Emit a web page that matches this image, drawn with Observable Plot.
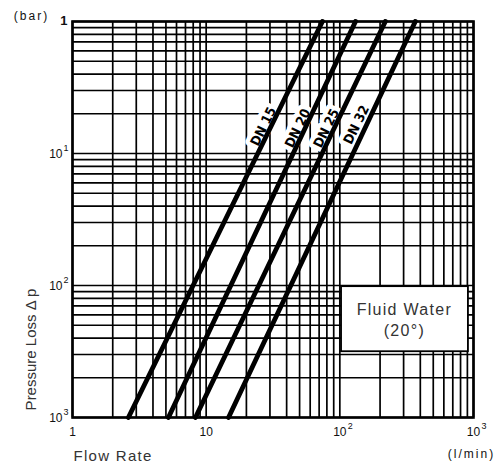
<!DOCTYPE html>
<html><head><meta charset="utf-8">
<script src="https://cdn.jsdelivr.net/npm/d3@7"></script>
<script src="https://cdn.jsdelivr.net/npm/@observablehq/plot@0.6"></script>
<style>
body{margin:0;background:#fff}
#chart svg{display:block}
g[aria-description="tracked"] text{letter-spacing:2px}
g[aria-description="wide"] text{letter-spacing:1.3px}
</style>
</head><body><div id="chart"></div>
<script>
// Curves: flow (l/min) where each curve meets the bottom (0.001 bar) and top (1 bar) of the chart
const series = ["DN 15", "DN 20", "DN 25", "DN 32"];
const flowAtLowPressure = [2.62, 5.22, 8.32, 14.7];
const flowAtHighPressure = [74.1, 131, 219, 367];
const pressureLow = 0.001;
const pressureHigh = 1;
// Curve label anchors
const labelFlow = [26.8, 48.5, 79.4, 133];
const labelPressure = [0.16, 0.155, 0.155, 0.165];

// Grid lines
const xGridValues = [1,2,3,4,5,6,7,8,9,10,20,30,40,50,60,70,80,90,100,200,300,400,500,600,700,800,900,1000];
const yGridValues = [1,0.9,0.8,0.7,0.6,0.5,0.4,0.3,0.2,0.1,0.09,0.08,0.07,0.06,0.05,0.04,0.03,0.02,0.01,0.009,0.008,0.007,0.006,0.005,0.004,0.003,0.002,0.001];

// Tick labels
const xTickValues = [1, 10, 100, 1000];
const xTickBase = ["1", "10", "10", "10"];
const xTickSup = ["", "", "2", "3"];
const yTickValues = [1, 0.1, 0.01, 0.001];
const yTickBase = ["1", "10", "10", "10"];
const yTickSup = ["", "1", "2", "3"];

// Note box
const noteText = "Fluid Water\n(20°)";
const noteFlowRange = [103, 916];
const noteFlowCenter = 304;
const notePressureRange = [0.00315, 0.0098];
const notePressureCenter = 0.00557;

const curveRows = series.flatMap((s, i) => [
  {s, q: flowAtLowPressure[i], p: pressureLow},
  {s, q: flowAtHighPressure[i], p: pressureHigh}
]);
const labelRows = series.map((s, i) => ({s, q: labelFlow[i], p: labelPressure[i]}));
const xTicks = xTickValues.map((v, i) => ({v, b: xTickBase[i], s: xTickSup[i]}));
const yTicks = yTickValues.map((v, i) => ({v, b: yTickBase[i], s: yTickSup[i]}));

const chart = Plot.plot({
  width: 498,
  height: 466,
  marginLeft: 72,
  marginRight: 25,
  marginTop: 21,
  marginBottom: 49,
  style: {fontFamily: "'Liberation Sans', Arial, sans-serif", background: "white", color: "#111"},
  x: {type: "log", domain: [1, 1000], axis: null},
  y: {type: "log", domain: [0.001, 1], axis: null},
  marks: [
    Plot.ruleX(xGridValues, {x: d => d, stroke: "#000", strokeWidth: 1.7}),
    Plot.ruleY(yGridValues, {y: d => d, stroke: "#000", strokeWidth: 1.7}),
    Plot.frame({stroke: "#000", strokeWidth: 2.6}),
    Plot.text(labelRows, {x: "q", y: "p", text: "s", rotate: -64, fontSize: 13.5, fontWeight: "bold",
      fontFamily: "'DejaVu Sans Condensed', 'Liberation Sans Narrow', sans-serif",
      fill: "#000", stroke: "white", strokeWidth: 9}),
    Plot.line(curveRows, {x: "q", y: "p", z: "s", stroke: "#000", strokeWidth: 4.8}),
    Plot.rect([0], {x1: () => noteFlowRange[0], x2: () => noteFlowRange[1],
      y1: () => notePressureRange[0], y2: () => notePressureRange[1],
      fill: "white", stroke: "#000", strokeWidth: 1.8}),
    Plot.text([noteText], {x: () => noteFlowCenter, y: () => notePressureCenter, text: d => d,
      fontSize: 16, lineHeight: 1.3, fill: "#333", ariaDescription: "wide"}),
    // x tick labels
    Plot.text(xTicks, {x: "v", text: "b", frameAnchor: "bottom", dy: 15, lineAnchor: "middle", fontSize: 12, fill: "#111"}),
    Plot.text(xTicks.filter(d => d.s), {x: "v", text: "s", frameAnchor: "bottom", dy: 9, dx: 8, lineAnchor: "middle", textAnchor: "start", fontSize: 9, fill: "#111"}),
    // y tick labels
    Plot.text(yTicks.filter(d => !d.s), {y: "v", text: "b", frameAnchor: "left", dx: -5, dy: -1, lineAnchor: "middle", textAnchor: "end", fontSize: 13, fontWeight: "bold", fill: "#111"}),
    Plot.text(yTicks.filter(d => d.s), {y: "v", text: "b", frameAnchor: "left", dx: -10, dy: 1, lineAnchor: "middle", textAnchor: "end", fontSize: 12, fill: "#111"}),
    Plot.text(yTicks.filter(d => d.s), {y: "v", text: "s", frameAnchor: "left", dx: -4, dy: -5, lineAnchor: "middle", textAnchor: "end", fontSize: 9, fill: "#111"}),
    // axis titles
    Plot.text(["(bar)"], {text: d => d, frameAnchor: "top-left", dx: -41, dy: -5, lineAnchor: "middle", textAnchor: "middle", fontSize: 12, fill: "#111", ariaDescription: "tracked"}),
    Plot.text(["(l/min)"], {text: d => d, frameAnchor: "bottom-right", dx: -2, dy: 37, lineAnchor: "middle", textAnchor: "middle", fontSize: 12, fill: "#111", ariaDescription: "tracked"}),
    Plot.text(["Flow Rate"], {text: d => d, frameAnchor: "bottom-left", dx: 1, dy: 39, lineAnchor: "middle", textAnchor: "start", fontSize: 15, fill: "#333", ariaDescription: "wide"}),
    Plot.text(["Pressure Loss \u0394 p"], {text: d => d, frameAnchor: "left", dx: -41, dy: 130, rotate: -90, lineAnchor: "middle", textAnchor: "middle", fontSize: 15, fill: "#333"})
  ]
});
document.getElementById("chart").appendChild(chart);
</script>
</body></html>
